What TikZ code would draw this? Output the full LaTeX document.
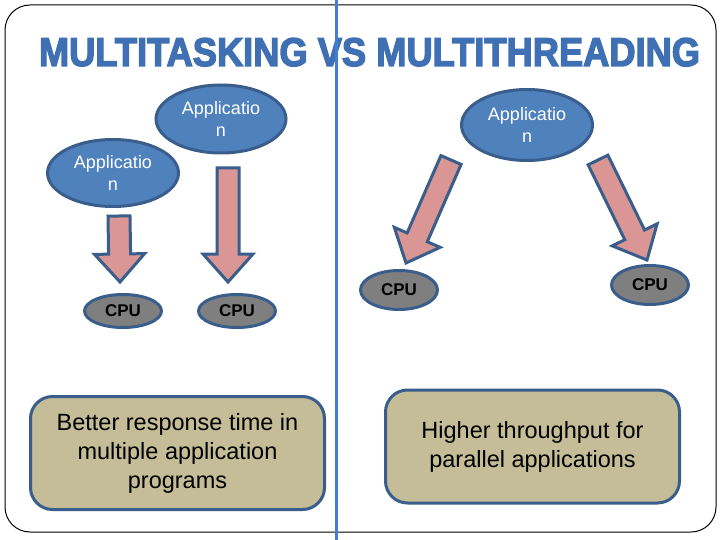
\documentclass[tikz,border=0pt]{standalone}
\usepackage{fontspec}
\setmainfont{Liberation Sans}
\newfontfamily\titlefont{Liberation Sans}[BoldFeatures={FakeBold=3.5}]
\usetikzlibrary{shapes.geometric,calc}
\definecolor{appblue}{HTML}{4F81BD}
\definecolor{edgeblue}{HTML}{3A5E8C}
\definecolor{arrowpink}{HTML}{D99694}
\definecolor{cpugray}{HTML}{7F7F7F}
\definecolor{boxtan}{HTML}{C4BD97}
\definecolor{divblue}{HTML}{3F7FD6}
\definecolor{titleblue}{HTML}{4070B4}
\tikzset{
  appnode/.style={ellipse, draw=edgeblue, line width=3pt, fill=appblue, text=white,
    inner sep=0pt, align=center, font=\fontsize{18}{22}\selectfont},
  cpunode/.style={ellipse, draw=edgeblue, line width=3pt, fill=cpugray, inner sep=0pt,
    minimum width=77pt, font=\bfseries\fontsize{17}{20}\selectfont},
  notebox/.style={rectangle, rounded corners=22pt, draw=edgeblue, line width=3pt,
    fill=boxtan, minimum width=294pt, minimum height=113pt, align=center,
    font=\fontsize{23.5}{29}\selectfont},
  barrowstyle/.style={draw=edgeblue, line width=3pt, fill=arrowpink},
}
% #1 tail coordinate, #2 tip coordinate, #3 unique prefix
\newcommand\blockarr[3]{%
  \coordinate (#3b) at ($(#2)!28pt!(#1)$);
  \draw[barrowstyle]
    ($(#1)!11pt!90:(#2)$) -- ($(#3b)!11pt!90:(#2)$) -- ($(#3b)!25pt!90:(#2)$)
    -- (#2) -- ($(#3b)!25pt!-90:(#2)$) -- ($(#3b)!11pt!-90:(#2)$)
    -- ($(#1)!11pt!-90:(#2)$) -- cycle;
}
\begin{document}
\begin{tikzpicture}[x=1pt,y=-1pt]
\useasboundingbox (0,0) rectangle (720,540);
\fill[white] (0,0) rectangle (720,540);
% frame
\draw[black, line width=1pt, rounded corners=25pt] (5,5) rectangle (716,532);
% title
\node[anchor=base, inner sep=0pt, text=titleblue] (title) at (369.5,66)
  {\resizebox{661pt}{28pt}{\titlefont\bfseries MULTITASKING VS MULTITHREADING}};
% divider
\coordinate (divtop) at (336,0);
\coordinate (divbot) at (336,540);
\draw[divblue, line width=3pt] (divtop) -- (divbot);
% application ellipses
\node[appnode, minimum width=130pt, minimum height=68pt] (a1) at (221,119) {Applicatio\\n};
\node[appnode, minimum width=131pt, minimum height=67pt] (a2) at (113,173) {Applicatio\\n};
\node[appnode, minimum width=131pt, minimum height=71pt] (a3) at (527,125) {Applicatio\\n};
% CPU ellipses
\node[cpunode, minimum height=33pt] (c1) at (123,311) {CPU};
\node[cpunode, minimum height=33pt] (c2) at (237,311) {CPU};
\node[cpunode, minimum height=39pt] (c3) at (399,290) {CPU};
\node[cpunode, minimum height=39pt] (c4) at (650,285) {CPU};
% arrow end points
\coordinate (t1) at (119,216);
\coordinate (h1) at (120,282);
\coordinate (t2) at (228,168);
\coordinate (h2) at (228,282);
\coordinate (t3) at (451,160);
\coordinate (h3) at (406,263);
\coordinate (t4) at (598,160);
\coordinate (h4) at (647,260);
\blockarr{t1}{h1}{ar1}
\blockarr{t2}{h2}{ar2}
\blockarr{t3}{h3}{ar3}
\blockarr{t4}{h4}{ar4}
% bottom boxes
\node[notebox] (b1) at (177.5,453) {Better response time in\\multiple application\\programs};
\node[notebox] (b2) at (532.5,446.5) {Higher throughput for\\parallel applications};
\end{tikzpicture}
\end{document}
